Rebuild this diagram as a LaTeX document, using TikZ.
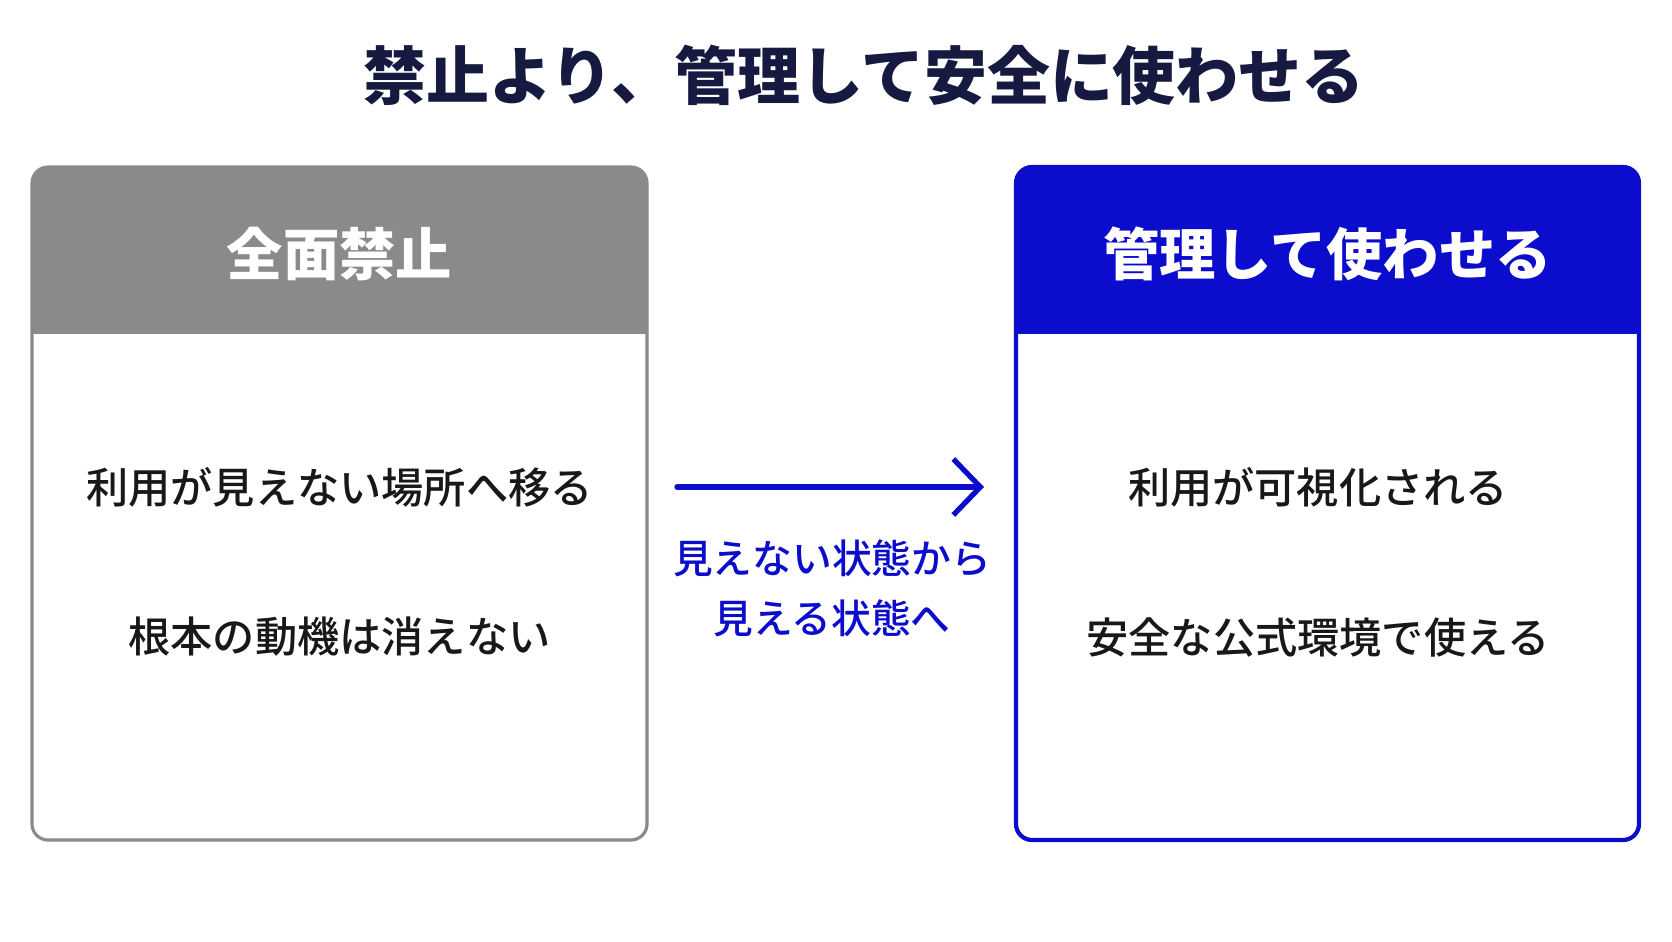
\documentclass[tikz,border=0pt]{standalone}
\usepackage{fontspec}
\setmainfont{Noto Sans CJK JP}
\newfontfamily\medfont{Noto Sans CJK JP Medium}
\usetikzlibrary{arrows.meta}
\definecolor{navy}{RGB}{22,26,64}
\definecolor{ngray}{RGB}{138,138,138}
\definecolor{nblue}{RGB}{12,12,204}
\definecolor{ink}{RGB}{24,24,24}

\begin{document}
\begin{tikzpicture}[x=0.01cm,y=-0.01cm]
    \tikzset{title/.style = {text=navy,font=\fontsize{17.9}{22}\selectfont\bfseries}}
    \tikzset{head/.style = {text=white,font=\fontsize{16}{20}\selectfont\bfseries}}
    \tikzset{item/.style = {text=ink,font=\fontsize{12}{15}\selectfont\medfont}}
    \tikzset{note/.style = {text=nblue,font=\fontsize{11.3}{17}\selectfont\medfont,align=center}}
    \tikzset{frame/.style = {rounded corners=0.16cm,fill=white}}
    \tikzset{edge/.style = {nblue,line width=1.5pt,line cap=round,-{Straight Barb[length=0.27cm,width=0.56cm]}}}
    \useasboundingbox (0,0) rectangle (1672,941);
    % title
    \node[title] (ttl) at (864,75) {禁止より、管理して安全に使わせる};
    % left panel
    \coordinate (lnw) at (32,167);
    \coordinate (lse) at (647,840);
    \fill[frame] (lnw) rectangle (lse);
    \begin{scope}
      \clip[rounded corners=0.16cm] (lnw) rectangle (lse);
      \fill[ngray] (lnw) rectangle (647,334);
    \end{scope}
    \draw[frame,fill=none,draw=ngray,line width=0.9pt] (lnw) rectangle (lse);
    \node[head] (lhead) at (339.5,254) {全面禁止};
    \node[item] (l1) at (339.5,487) {利用が見えない場所へ移る};
    \node[item] (l2) at (339.5,637) {根本の動機は消えない};
    % right panel
    \coordinate (rnw) at (1016,167);
    \coordinate (rse) at (1639,840);
    \fill[frame] (rnw) rectangle (rse);
    \begin{scope}
      \clip[rounded corners=0.16cm] (rnw) rectangle (rse);
      \fill[nblue] (rnw) rectangle (1639,334);
    \end{scope}
    \draw[frame,fill=none,draw=nblue,line width=1.2pt] (rnw) rectangle (rse);
    \node[head] (rhead) at (1327.5,254) {管理して使わせる};
    \node[item] (r1) at (1318,487) {利用が可視化される};
    \node[item] (r2) at (1318,637) {安全な公式環境で使える};
    %edges
    \coordinate (a) at (677,487);
    \coordinate (b) at (984,487);
    \draw[edge] (a) -- (b);
    \node[note] (lbl) at (832,588) {見えない状態から\\見える状態へ};
\end{tikzpicture}
\end{document}
